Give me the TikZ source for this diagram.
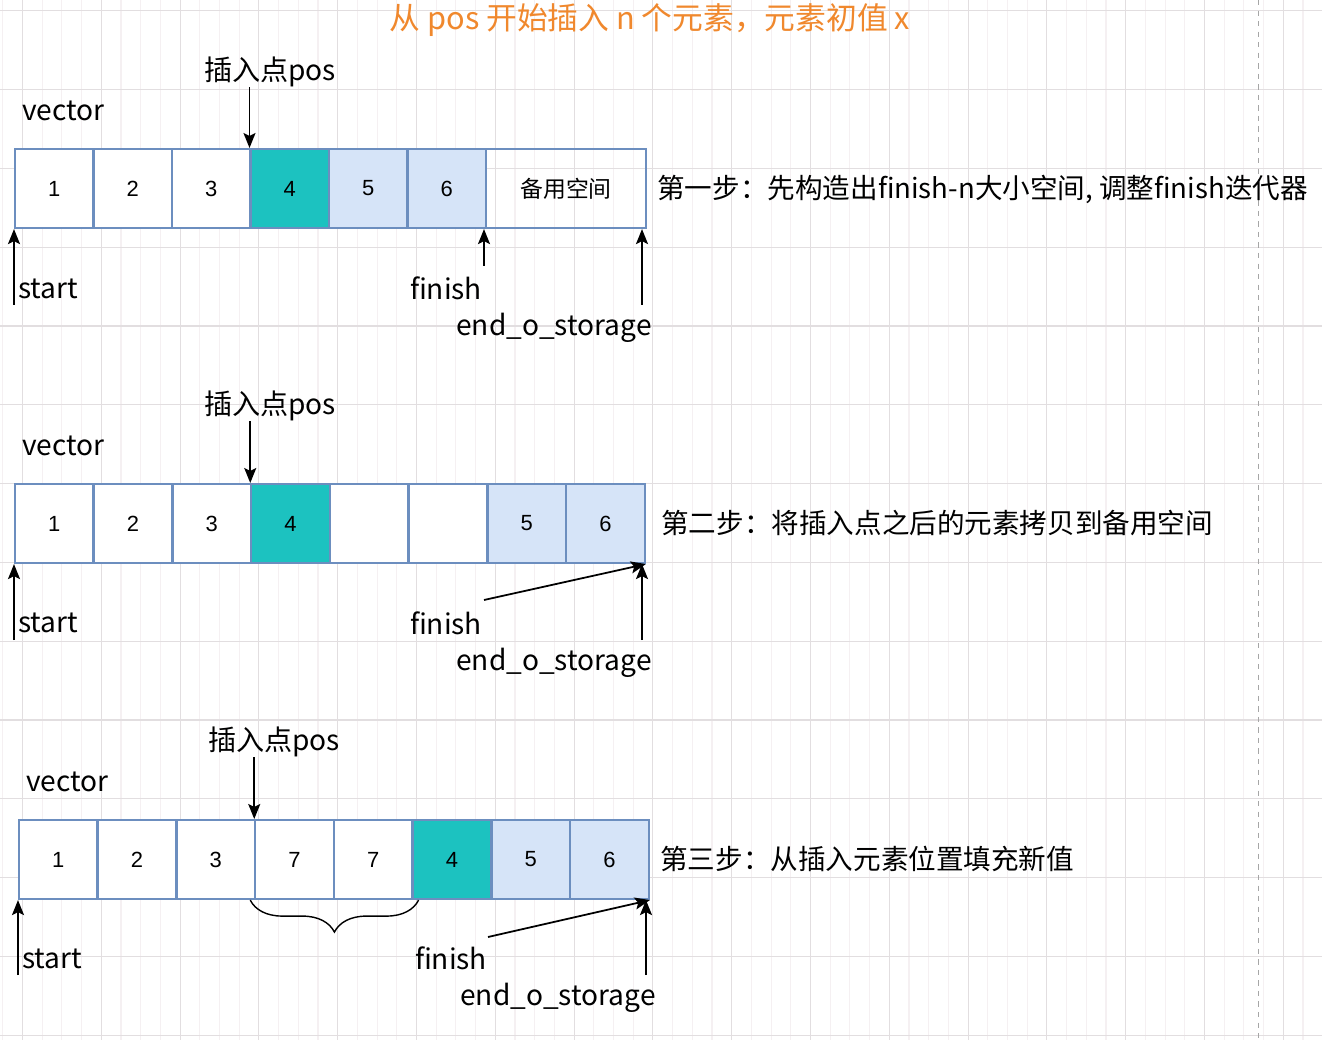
\documentclass[tikz,border=0pt]{standalone}
\usepackage{fontspec}
\setmainfont{Noto Sans CJK SC}
\newfontfamily\cellfont{Liberation Sans}
\usetikzlibrary{arrows.meta,decorations.pathreplacing}

\definecolor{cellline}{HTML}{6C8EBF}
\definecolor{lblue}{HTML}{D6E4F8}
\definecolor{teal4}{HTML}{1CC2C0}
\definecolor{titleorange}{HTML}{F0882D}
\definecolor{gridmajor}{HTML}{E2DEE0}
\definecolor{gridminor}{HTML}{F5F0F2}

\tikzset{
  cell/.style = {draw = cellline, line width = 1.2pt, anchor = north west,
    minimum width = 1.57cm, minimum height = 1.58cm, inner sep = 0pt,
    font = \cellfont\fontsize{12.5}{14}\selectfont},
  lbl/.style  = {inner sep = 0pt, font = \fontsize{16}{18}\selectfont},
  steptext/.style = {inner sep = 0pt, anchor = west,
    font = \fontsize{15.7}{18}\selectfont},
  arr/.style  = {line width = 1pt,
    -{Stealth[length = .3cm, width = .24cm, inset = .06cm]}}
}

\begin{document}
\begin{tikzpicture}[x = .02cm, y = -.02cm]
  \useasboundingbox (0,0) rectangle (1322,1040);
  \fill [white] (0,0) rectangle (1322,1040);
  % background grid
  \foreach \x in {2.8, 22.5, ..., 1322}
    \draw [gridminor, line width = .6pt] (\x,0) -- (\x,1040);
  \foreach \x in {22.5, 101.3, ..., 1322}
    \draw [gridmajor, line width = .6pt] (\x,0) -- (\x,1040);
  \foreach \y in {10.8, 89.6, ..., 1040}
    \draw [gridmajor, line width = .6pt] (0,\y) -- (1322,\y);
  \draw [gray!70, dashed, line width = .5pt] (1258,0) -- (1258,1040);

  \node [inner sep = 0pt, text = titleorange, font = \fontsize{17.5}{20}\selectfont]
    (title) at (650,20) {从 pos 开始插入 n 个元素，元素初值 x};

  % step one
  \foreach \i/\t/\f in {1/1/white, 2/2/white, 3/3/white, 4/4/teal4,
                        5/5/lblue, 6/6/lblue}
    \node [cell, fill = \f] (a\i) at ({14 + 78.5*(\i - 1)},148) {\t};
  \node [cell, minimum width = 3.2cm, font = \fontsize{13}{15}\selectfont]
    (a7) at (485,148) {备用空间};
  \node [lbl] (pos1) at (270,72) {插入点pos};
  \node [lbl, anchor = west] (vec1) at (22,111) {vector};
  \node [lbl, anchor = west] (start1) at (18,289) {start};
  \node [lbl] (fin1) at (446,288) {finish};
  \node [lbl] (end1) at (554,328) {end\_o\_storage};
  \node [steptext] (step1) at (657,189)
    {第一步：先构造出finish-n大小空间, 调整finish迭代器};
  \coordinate (s1) at (14,305);
  \coordinate (f1) at (484,266);
  \coordinate (e1) at (642,305);
  \draw [arr] (a4.north west |- pos1.south) -- (a4.north west);
  \draw [arr] (s1) -- (a1.south west);
  \draw [arr] (f1) -- (f1 |- a6.south east);
  \draw [arr] (e1) -- (e1 |- a7.south east);

  % step two
  \foreach \i/\t/\f in {1/1/white, 2/2/white, 3/3/white, 4/4/teal4,
                        5//white, 6//white, 7/5/lblue, 8/6/lblue}
    \node [cell, fill = \f] (b\i) at ({14 + 78.75*(\i - 1)},483) {\t};
  \node [lbl] (pos2) at (270,406) {插入点pos};
  \node [lbl, anchor = west] (vec2) at (22,446) {vector};
  \node [lbl, anchor = west] (start2) at (18,623) {start};
  \node [lbl] (fin2) at (446,623) {finish};
  \node [lbl] (end2) at (554,663) {end\_o\_storage};
  \node [steptext] (step2) at (661,523)
    {第二步：将插入点之后的元素拷贝到备用空间};
  \coordinate (s2) at (14,640);
  \coordinate (f2) at (484,600);
  \coordinate (e2) at (642,640);
  \draw [arr] (b4.north west |- pos2.south) -- (b4.north west);
  \draw [arr] (s2) -- (b1.south west);
  \draw [arr] (f2) -- (b8.south east);
  \draw [arr] (e2) -- (e2 |- b8.south east);

  % step three
  \foreach \i/\t/\f in {1/1/white, 2/2/white, 3/3/white, 4/7/white,
                        5/7/white, 6/4/teal4, 7/5/lblue, 8/6/lblue}
    \node [cell, fill = \f] (c\i) at ({18 + 78.75*(\i - 1)},819) {\t};
  \node [lbl] (pos3) at (274,742) {插入点pos};
  \node [lbl, anchor = west] (vec3) at (26,782) {vector};
  \node [lbl, anchor = west] (start3) at (22,959) {start};
  \node [lbl] (fin3) at (451,958) {finish};
  \node [lbl] (end3) at (558,998) {end\_o\_storage};
  \node [steptext] (step3) at (660,859)
    {第三步：从插入元素位置填充新值};
  \coordinate (s3) at (18,975);
  \coordinate (f3) at (488,937);
  \coordinate (e3) at (646,975);
  \draw [arr] (c4.north west |- pos3.south) -- (c4.north west);
  \draw [arr] (s3) -- (c1.south west);
  \draw [arr] (f3) -- (c8.south east);
  \draw [arr] (e3) -- (e3 |- c8.south east);
  \draw [line width = .8pt, decorate,
         decoration = {brace, mirror, amplitude = .64cm, aspect = .5}]
    ([xshift = -.08cm] c4.south west) -- ([xshift = .1cm] c5.south east);
\end{tikzpicture}
\end{document}
